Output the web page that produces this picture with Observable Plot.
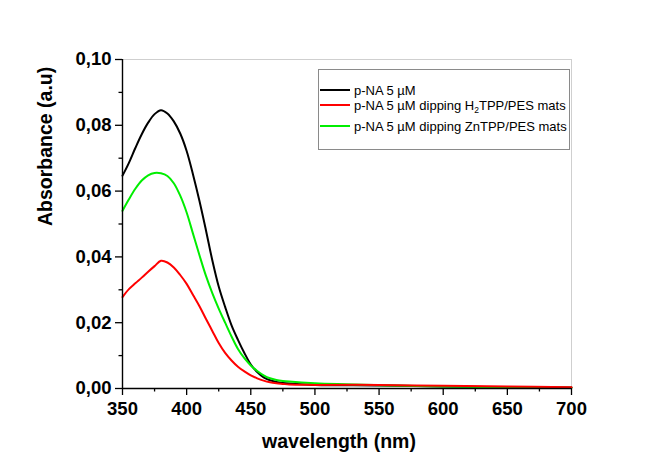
<!DOCTYPE html>
<html>
<head>
<meta charset="utf-8">
<script src="https://cdn.jsdelivr.net/npm/d3@7"></script>
<script src="https://cdn.jsdelivr.net/npm/@observablehq/plot@0.6"></script>
<style>
  html, body { margin: 0; padding: 0; background: #fff; }
  #wrap { position: relative; width: 649px; height: 459px; background: #fff; }
  #legend { position: absolute; left: 318px; top: 69px; width: 252px; height: 81px;
    box-sizing: border-box; border: 1px solid #8a8a8a; background: #fff;
    font-family: "Liberation Sans", Arial, sans-serif; font-size: 13px; color: #000; }
  .row { position: absolute; left: 1px; height: 14px; display: flex; align-items: center; white-space: nowrap; }
  .swatch { width: 30px; height: 2px; margin-right: 4px; }
  sub { font-size: 8.5px; vertical-align: -3px; line-height: 0; }
</style>
</head>
<body>
<div id="wrap"><div id="legend"></div></div>
<script>
// Wavelengths (nm)
const wavelengths = [350,355,360,365,370,375,380,385,390,395,400,405,410,415,420,425,430,435,440,445,450,455,460,465,470,475,480,500,550,600,650,700];
// Absorbance, p-NA 5 µM (black)
const absBlack = [0.0647,0.0686,0.0731,0.0773,0.0808,0.0834,0.0846,0.0836,0.0812,0.0775,0.0722,0.0650,0.0570,0.0482,0.0390,0.0310,0.0248,0.0192,0.0148,0.0108,0.0073,0.0050,0.0034,0.0025,0.0020,0.0017,0.0015,0.0011,0.0009,0.0006,0.0004,0.0003];
// Absorbance, dipping H2TPP/PES mats (red)
const absRed = [0.0278,0.0302,0.0320,0.0337,0.0355,0.0372,0.0388,0.0383,0.0368,0.0345,0.0318,0.0284,0.0250,0.0212,0.0175,0.0138,0.0108,0.0085,0.0066,0.0052,0.0040,0.0031,0.0024,0.0019,0.0016,0.0014,0.0012,0.0011,0.0011,0.0008,0.0006,0.0004];
// Absorbance, dipping ZnTPP/PES mats (green)
const absGreen = [0.0540,0.0575,0.0607,0.0632,0.0648,0.0655,0.0654,0.0646,0.0624,0.0586,0.0535,0.0470,0.0405,0.0343,0.0290,0.0243,0.0200,0.0158,0.0120,0.0092,0.0070,0.0053,0.0040,0.0031,0.0026,0.0023,0.0021,0.0016,0.0010,0.0006,0.0004,0.0002];

const seriesNames = ["p-NA 5 µM", "p-NA 5 µM dipping H<sub>2</sub>TPP/PES mats", "p-NA 5 µM dipping ZnTPP/PES mats"];
const seriesColors = ["#000000", "#ff0000", "#00ee00"];
const seriesValues = [absBlack, absRed, absGreen];

const xTicks = [350,400,450,500,550,600,650,700];
const xMinorTicks = [375,425,475,525,575,625,675];
const yTicks = [0,0.02,0.04,0.06,0.08,0.10];
const yMinorTicks = [0.01,0.03,0.05,0.07,0.09];
const xTitle = "wavelength (nm)";
const yTitle = "Absorbance (a.u)";

const rows = seriesValues.map((vals, s) => wavelengths.map((w, i) => ({wavelength: w, absorbance: vals[i], series: s})));
const drawOrder = [0, 2, 1];

const font = "'Liberation Sans', Arial, sans-serif";
const chart = Plot.plot({
  width: 649, height: 459,
  marginLeft: 122, marginRight: 78, marginTop: 59, marginBottom: 71,
  x: {domain: [350, 700]},
  y: {domain: [0, 0.1]},
  style: {fontFamily: font, fontSize: "18.5px", fontWeight: "bold", color: "#000", background: "#fff", overflow: "visible"},
  marks: [
    Plot.ruleY([0.1], {stroke: "#cfcfcf", strokeWidth: 1}),
    Plot.ruleX([700], {stroke: "#cfcfcf", strokeWidth: 1}),
    ...drawOrder.map(s => Plot.line(rows[s], {x: "wavelength", y: "absorbance", stroke: seriesColors[s], strokeWidth: 2, curve: "catmull-rom"})),
    Plot.axisX({ticks: xTicks, tickSize: 7, tickPadding: 6, tickFormat: d => String(d), label: null, strokeWidth: 1.3}),
    Plot.axisX({ticks: xMinorTicks, tickSize: 3.5, tickFormat: () => "", label: null, strokeWidth: 1.3}),
    Plot.axisY({ticks: yTicks, tickSize: 7, tickPadding: 4, tickFormat: d => d.toFixed(2).replace(".", ","), label: null, strokeWidth: 1.3}),
    Plot.axisY({ticks: yMinorTicks, tickSize: 3.5, tickFormat: () => "", label: null, strokeWidth: 1.3}),
    Plot.ruleX([350], {stroke: "#000", strokeWidth: 1.4}),
    Plot.ruleY([0], {stroke: "#000", strokeWidth: 1.4}),
    Plot.text([xTitle], {frameAnchor: "bottom", text: d => d, dx: -8, dy: 53, lineAnchor: "middle", fontSize: 19.5, fontWeight: "bold"}),
    Plot.text([yTitle], {frameAnchor: "left", text: d => d, dx: -77, dy: 2, rotate: -90, lineAnchor: "middle", fontSize: 19.5, fontWeight: "bold"})
  ]
});
document.getElementById("wrap").insertBefore(chart, document.getElementById("legend"));

const legend = document.getElementById("legend");
const rowTops = [13, 28, 49];
seriesNames.forEach((name, s) => {
  const r = document.createElement("div");
  r.className = "row";
  r.style.top = rowTops[s] + "px";
  r.innerHTML = `<span class="swatch" style="background:${seriesColors[s]}"></span><span>${name}</span>`;
  legend.appendChild(r);
});
</script>
</body>
</html>
